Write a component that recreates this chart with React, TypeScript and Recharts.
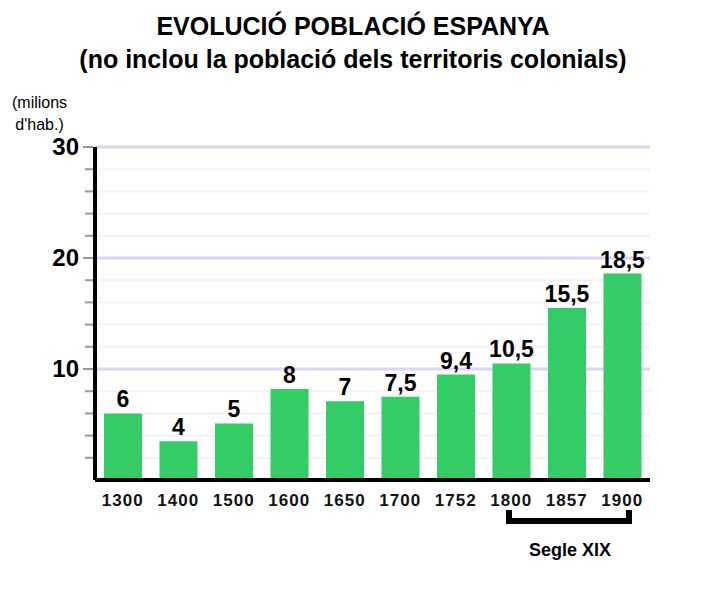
import { BarChart, Bar, XAxis, YAxis, CartesianGrid, LabelList } from "recharts";

const years = ["1300", "1400", "1500", "1600", "1650", "1700", "1752", "1800", "1857", "1900"];
const population = [6, 3.5, 5.1, 8.2, 7.1, 7.5, 9.5, 10.5, 15.5, 18.6];
const valueLabels = ["6", "4", "5", "8", "7", "7,5", "9,4", "10,5", "15,5", "18,5"];
const yTicks = [0, 2, 4, 6, 8, 10, 12, 14, 16, 18, 20, 22, 24, 26, 28, 30];
const majorGrid = [10, 20, 30];
const minorGrid = [2, 4, 6, 8, 12, 14, 16, 18, 22, 24, 26, 28];

const data = years.map((y, i) => ({ year: y, pop: population[i], label: valueLabels[i] }));
const FONT = "Arial, 'Liberation Sans', sans-serif";

function YTick({ x, y, payload }: any) {
  const major = payload.value % 10 === 0 && payload.value > 0;
  return (
    <g>
      {payload.value > 0 && (
        <line x1={x - (major ? 4 : 2)} x2={x + 6} y1={y} y2={y} stroke="#999" strokeWidth={2} />
      )}
      {major && (
        <text x={x - 8} y={y + 8} textAnchor="end" fontSize={24} fontWeight="bold" fontFamily={FONT} fill="#000">
          {payload.value}
        </text>
      )}
    </g>
  );
}

function XTick({ x, y, payload }: any) {
  return (
    <text x={x} y={y + 18} textAnchor="middle" fontSize={17} fontWeight="bold" fontFamily={FONT} fill="#111" letterSpacing={1}>
      {payload.value}
    </text>
  );
}

function ValueLabel({ x, y, width, index }: any) {
  return (
    <text x={x + width / 2} y={y - 6} textAnchor="middle" fontSize={23} fontWeight="bold" fontFamily={FONT} fill="#000">
      {valueLabels[index]}
    </text>
  );
}

export default function App() {
  return (
    <div style={{ position: "relative", width: 706, height: 589, margin: -8, background: "#fff", fontFamily: FONT }}>
      <div style={{ position: "absolute", top: 10, width: 706, textAlign: "center", fontWeight: "bold", fontSize: 25, lineHeight: "33px" }}>
        EVOLUCIÓ POBLACIÓ ESPANYA
        <br />
        (no inclou la població dels territoris colonials)
      </div>
      <div style={{ position: "absolute", top: 92, left: 12, fontSize: 16, lineHeight: "22px", textAlign: "center" }}>
        (milions
        <br />
        d'hab.)
      </div>
      <BarChart
        width={706}
        height={589}
        data={data}
        margin={{ top: 147, right: 56, bottom: 79, left: 0 }}
        barSize={38}
      >
        <CartesianGrid vertical={false} horizontalValues={minorGrid} stroke="#f4f1fb" strokeWidth={2} />
        <CartesianGrid vertical={false} horizontalValues={majorGrid} stroke="#ddd2f7" strokeWidth={3} />
        <XAxis dataKey="year" height={30} tick={<XTick />} tickLine={false} axisLine={{ stroke: "#000", strokeWidth: 4 }} interval={0} />
        <YAxis
          width={95}
          domain={[0, 30]}
          ticks={yTicks}
          interval={0}
          tick={<YTick />}
          tickLine={false}
          axisLine={{ stroke: "#000", strokeWidth: 4 }}
        />
        <Bar dataKey="pop" fill="#33cc66" isAnimationActive={false}>
          <LabelList dataKey="label" content={<ValueLabel />} />
        </Bar>
      </BarChart>
      <svg style={{ position: "absolute", left: 0, top: 0 }} width={706} height={589}>
        <path d="M509 510 V521 H629 V510" fill="none" stroke="#000" strokeWidth={6} />
        <text x={570} y={556} textAnchor="middle" fontSize={18} fontWeight="bold" fontFamily={FONT} fill="#000">
          Segle XIX
        </text>
      </svg>
    </div>
  );
}
